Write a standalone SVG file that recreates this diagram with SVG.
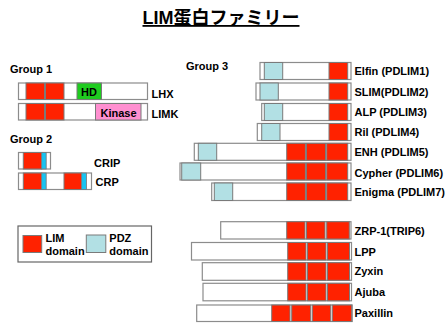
<svg xmlns="http://www.w3.org/2000/svg" width="448" height="323" viewBox="0 0 448 323">
<style>
text{font-family:"Liberation Sans","Noto Sans CJK JP",Arial,sans-serif;font-weight:bold;font-size:11px;fill:#000}
.bar{fill:#fff;stroke:#8c8c8c;stroke-width:1.2}
.lim{fill:#ff2200;stroke:#7a7a7a;stroke-width:1}
.pdz{fill:#b2e0e4;stroke:#7a7a7a;stroke-width:1}
.cy{fill:#18c4f2;stroke:#7a7a7a;stroke-width:0.8}
.title{font-size:18px;text-decoration:underline}
</style>
<rect width="448" height="323" fill="#fff"/>
<text class="title" x="221" y="24" text-anchor="middle">LIM蛋白ファミリー</text>

<text x="10" y="73">Group 1</text>
<text x="10" y="143">Group 2</text>
<text x="186" y="70">Group 3</text>

<g id="LHX">
<rect class="bar" x="18.5" y="83" width="129" height="16.5"/>
<rect class="lim" x="26" y="83" width="18.5" height="16.5"/>
<rect class="lim" x="45.5" y="83" width="18.5" height="16.5"/>
<rect x="77" y="83" width="24.5" height="16.5" fill="#1fcc1f" stroke="#7a7a7a"/>
<text x="89" y="96" text-anchor="middle">HD</text>
<text x="151.5" y="97.5">LHX</text>
</g>
<g id="LIMK">
<rect class="bar" x="18.5" y="103.5" width="129" height="16.5"/>
<rect class="lim" x="26" y="103.5" width="18.5" height="16.5"/>
<rect class="lim" x="45.5" y="103.5" width="18.5" height="16.5"/>
<rect x="95.5" y="103.5" width="45.5" height="16.5" fill="#ff8fd0" stroke="#7a7a7a"/>
<text x="118.5" y="117" text-anchor="middle">Kinase</text>
<text x="151.5" y="117.5">LIMK</text>
</g>

<g id="CRIP">
<rect class="bar" x="18.5" y="152.5" width="32" height="16.5"/>
<rect class="lim" x="23.3" y="152.5" width="18.4" height="16.5"/>
<rect class="cy" x="41.7" y="152.5" width="4.5" height="16.5"/>
<text x="94" y="166.5">CRIP</text>
</g>
<g id="CRP">
<rect class="bar" x="18.5" y="173" width="73" height="16.5"/>
<rect class="lim" x="23.3" y="173" width="18.4" height="16.5"/>
<rect class="cy" x="41.7" y="173" width="4.5" height="16.5"/>
<rect class="lim" x="64" y="173" width="17.7" height="16.5"/>
<rect class="cy" x="81.7" y="173" width="4.8" height="16.5"/>
<text x="95.5" y="185.5">CRP</text>
</g>

<g id="legend">
<rect x="18" y="226" width="133.5" height="36" fill="#fff" stroke="#666" stroke-width="1.2"/>
<rect class="lim" x="23" y="235.5" width="18.7" height="17"/>
<text x="45.5" y="241.5">LIM</text>
<text x="45.5" y="254.5">domain</text>
<rect class="pdz" x="86.3" y="235" width="19.5" height="17.5"/>
<text x="109.3" y="241.5">PDZ</text>
<text x="109.3" y="254.5">domain</text>
</g>

<g id="Elfin">
<rect class="bar" x="260" y="62.5" width="91" height="17"/>
<rect class="pdz" x="264.3" y="62.5" width="18.4" height="17"/>
<rect class="lim" x="329" y="62.5" width="18.7" height="17"/>
<text x="354.5" y="75">Elfin (PDLIM1)</text>
</g>
<g id="SLIM">
<rect class="bar" x="256" y="83" width="95" height="17"/>
<rect class="pdz" x="260" y="83" width="18.3" height="17"/>
<rect class="lim" x="329" y="83" width="18.7" height="17"/>
<text x="354.5" y="95.5">SLIM(PDLIM2)</text>
</g>
<g id="ALP">
<rect class="bar" x="261.7" y="103.5" width="89.3" height="17"/>
<rect class="pdz" x="264.3" y="103.5" width="18.4" height="17"/>
<rect class="lim" x="329" y="103.5" width="18.7" height="17"/>
<text x="354.5" y="116">ALP (PDLIM3)</text>
</g>
<g id="Ril">
<rect class="bar" x="257.3" y="123.5" width="93.7" height="17"/>
<rect class="pdz" x="261.7" y="123.5" width="18.3" height="17"/>
<rect class="lim" x="329" y="123.5" width="18.7" height="17"/>
<text x="354.5" y="136">Ril (PDLIM4)</text>
</g>
<g id="ENH">
<rect class="bar" x="194.3" y="143.3" width="156.7" height="17"/>
<rect class="pdz" x="198.3" y="143.3" width="18.4" height="17"/>
<rect class="lim" x="286.7" y="143.3" width="18.7" height="17"/>
<rect class="lim" x="306.5" y="143.3" width="19" height="17"/>
<rect class="lim" x="326.7" y="143.3" width="21" height="17"/>
<text x="354.5" y="156">ENH (PDLIM5)</text>
</g>
<g id="Cypher">
<rect class="bar" x="180" y="163" width="171" height="17"/>
<rect class="pdz" x="181.7" y="163" width="19" height="17"/>
<rect class="lim" x="286.7" y="163" width="18.7" height="17"/>
<rect class="lim" x="306.5" y="163" width="19" height="17"/>
<rect class="lim" x="326.7" y="163" width="21" height="17"/>
<text x="354.5" y="176.5">Cypher (PDLIM6)</text>
</g>
<g id="Enigma">
<rect class="bar" x="211.7" y="183" width="139.3" height="17.5"/>
<rect class="pdz" x="214.3" y="183" width="18.4" height="17.5"/>
<rect class="lim" x="286.7" y="183" width="18.7" height="17.5"/>
<rect class="lim" x="306.5" y="183" width="19" height="17.5"/>
<rect class="lim" x="326.7" y="183" width="21" height="17.5"/>
<text x="354.5" y="196">Enigma (PDLIM7)</text>
</g>

<g id="ZRP1">
<rect class="bar" x="220.7" y="221.7" width="130.3" height="17.3"/>
<rect class="lim" x="286.7" y="221.7" width="18.3" height="17.3"/>
<rect class="lim" x="306.5" y="221.7" width="18.5" height="17.3"/>
<rect class="lim" x="326.7" y="221.7" width="22.6" height="17.3"/>
<text x="354.5" y="235">ZRP-1(TRIP6)</text>
</g>
<g id="LPP">
<rect class="bar" x="191.5" y="242.5" width="160" height="17.5"/>
<rect class="lim" x="287.7" y="242.5" width="18.3" height="17.5"/>
<rect class="lim" x="307.5" y="242.5" width="18.5" height="17.5"/>
<rect class="lim" x="327.5" y="242.5" width="22" height="17.5"/>
<text x="354.5" y="255.5">LPP</text>
</g>
<g id="Zyxin">
<rect class="bar" x="202.3" y="262.7" width="149.2" height="17.6"/>
<rect class="lim" x="287.7" y="262.7" width="18.3" height="17.6"/>
<rect class="lim" x="307.5" y="262.7" width="18.5" height="17.6"/>
<rect class="lim" x="327.5" y="262.7" width="22" height="17.6"/>
<text x="354.5" y="275">Zyxin</text>
</g>
<g id="Ajuba">
<rect class="bar" x="203" y="283.3" width="148.5" height="17.5"/>
<rect class="lim" x="287.7" y="283.3" width="18.3" height="17.5"/>
<rect class="lim" x="307.5" y="283.3" width="18.5" height="17.5"/>
<rect class="lim" x="327.5" y="283.3" width="22" height="17.5"/>
<text x="354.5" y="296">Ajuba</text>
</g>
<g id="Paxillin">
<rect class="bar" x="196.7" y="305" width="155.5" height="16.5"/>
<rect class="lim" x="271.7" y="305" width="18.3" height="16.5"/>
<rect class="lim" x="291.7" y="305" width="19" height="16.5"/>
<rect class="lim" x="312.3" y="305" width="18.4" height="16.5"/>
<rect class="lim" x="332.3" y="305" width="19.4" height="16.5"/>
<text x="354.5" y="316.5">Paxillin</text>
</g>
<g id="connectors"/>
</svg>
